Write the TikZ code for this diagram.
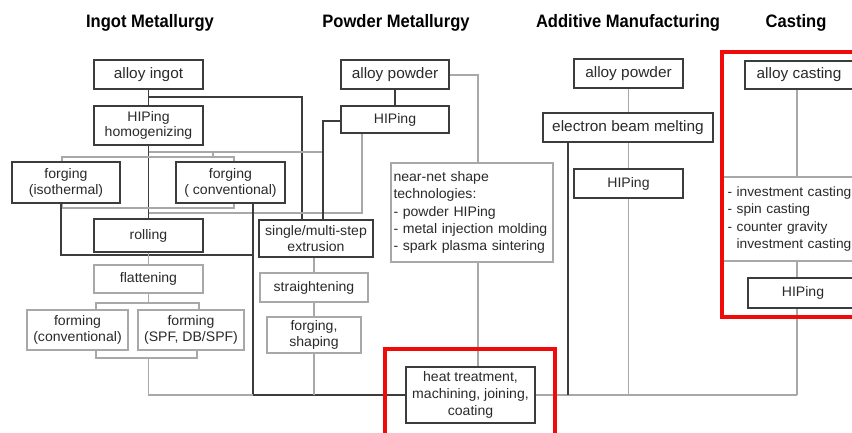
\documentclass[tikz,border=0pt]{standalone}
\usepackage{fontspec}
\setmainfont{Liberation Sans}[FakeStretch=1.02]
\newfontfamily\headfont{Liberation Sans}[FakeStretch=0.92]
\definecolor{dkline}{HTML}{3C3C3C}
\definecolor{ltline}{HTML}{A8A8A8}
\definecolor{txt}{HTML}{2A2A2A}
\definecolor{hired}{HTML}{F00A0A}
\newcommand\bigsize{\fontsize{15.1}{17}\selectfont}
\newcommand\bodysize{\fontsize{13.8}{16}\selectfont\hyphenpenalty=10000\exhyphenpenalty=10000}
\newcommand\listsize{\fontsize{13.5}{17.2}\selectfont\hyphenpenalty=10000\exhyphenpenalty=10000}

\tikzset{
  dk/.style={draw=dkline, line width=1.4pt},
  lt/.style={draw=ltline, line width=1.1pt},
  wh/.style 2 args={minimum width=#1pt, minimum height=#2pt},
  dbox/.style={dk, fill=white, rectangle, inner sep=0pt, align=center, font=\bodysize, text=txt},
  lbox/.style={lt, fill=white, rectangle, inner sep=0pt, align=center, font=\bodysize, text=txt},
  srcbox/.style={dbox, font=\bigsize},
  listbox/.style={lbox, align=left, font=\listsize},
  head/.style={font=\headfont\bfseries\fontsize{18}{20}\selectfont, text=black},
  hilite/.style={draw=hired, line width=4pt},
}

\begin{document}
\begin{tikzpicture}[x=1pt, y=-1pt]
\useasboundingbox (0,0) rectangle (852,432);
\clip (0,0) rectangle (852,432);
\fill[white] (0,0) rectangle (852,432);

% column headings
\node[head] (h1) at (150,23) {Ingot Metallurgy};
\node[head] (h2) at (396,23) {Powder Metallurgy};
\node[head] (h3) at (628,23) {Additive Manufacturing};
\node[head] (h4) at (796,23) {Casting};

% junction points on the trunk lines
\coordinate (j1) at (148.5,97);
\coordinate (j3) at (148.5,152);
\coordinate (j4) at (323,152);
\coordinate (j5) at (148.5,213);
\coordinate (j2) at (253,255);
\coordinate (jF) at (148.5,358);
\coordinate (jG) at (253,395);
\coordinate (t1) at (213,152);
\coordinate (t2) at (213,157);
\coordinate (jE) at (568,395);

% --- connectors (drawn first, boxes sit on top) ---
% ingot metallurgy
\draw[dk] (148.5,74) -- (148.5,252);
\draw[dk] (j1) -| (302,220);
\draw[lt] (j3) -- (j4);
\draw[lt] (t1) -- (t2);
\draw[lt] (62,170) -- (62,157) -| (234,170);
\draw[lt] (62,195) -- (62,208) -| (234,195);
\draw[lt] (362,120) |- (j5);
\draw[dk] (61,195) |- (j2);
\draw[dk] (253,195) |- (406,395);
\draw[lt] (148.5,252) -- (148.5,303);
\draw[lt] (96,318) -- (96,303) -| (199,318);
\draw[lt] (96,345) -- (96,358) -| (197,345);
\draw[lt] (jF) |- (jG);
% powder metallurgy
\draw[dk] (395,74) -- (395,119);
\draw[dk] (395,121) -| (323,220);
\draw[lt] (314,238) -- (314,395);
\draw[lt] (400,75) -| (478,212);
\draw[lt] (478,212) -- (478,395);
% additive manufacturing and casting
\draw[lt] (535,395) -- (797,395);
\draw[lt] (628.5,74) -- (628.5,395);
\draw[dk] (568,127) -- (jE);
\draw[lt] (797,75) -- (797,395);

% --- boxes: ingot metallurgy ---
\node[srcbox, wh={109}{29}] (ingot) at (148.5,74.5) {alloy ingot};
\node[dbox, wh={109}{39}, font=\fontsize{13.8}{14.8}\selectfont] (hiphom) at (148.5,125.5) {HIPing\\homogenizing};
\node[dbox, wh={108}{41}] (forgiso) at (66,182.5) {forging\\(isothermal)};
\node[dbox, wh={109}{41}] (forgconv) at (230.5,182.5) {forging\\( conventional)};
\node[dbox, wh={109}{33}] (rolling) at (148.5,235.5) {rolling};
\node[lbox, wh={109}{28}] (flat) at (148.5,279) {flattening};
\node[lbox, wh={101}{40}] (formconv) at (77.5,330) {forming\\(conventional)};
\node[lbox, wh={106}{40}] (formspf) at (191,330) {forming\\(SPF, DB/SPF)};

% --- boxes: powder metallurgy ---
\node[srcbox, wh={108}{29}] (ppowder) at (395,74.5) {alloy powder};
\node[dbox, wh={108}{27}] (phip) at (395,119.5) {HIPing};
\node[dbox, wh={114}{37}] (extr) at (316,238.5) {single/multi-step\\extrusion};
\node[lbox, wh={108}{29}] (straight) at (314,287.5) {straightening};
\node[lbox, wh={94}{36}] (fshape) at (314,335) {forging,\\shaping};
\node[listbox, wh={162}{99}, text width=157pt, inner xsep=2.5pt, font=\fontsize{13.8}{17.2}\selectfont] (nearnet) at (472,212.5)
  {near-net shape\\technologies:\\- powder HIPing\\- metal injection molding\\- spark plasma sintering};
\node[dbox, wh={129}{56}, font=\fontsize{13.8}{16.7}\selectfont] (heat) at (470.5,395) {heat treatment,\\machining, joining,\\coating};

% --- boxes: additive manufacturing ---
\node[srcbox, wh={109}{29}] (apowder) at (628.5,73.5) {alloy powder};
\node[srcbox, wh={170}{29}] (ebm) at (628,127.5) {electron beam melting};
\node[dbox, wh={109}{29}] (ahip) at (628.5,183.5) {HIPing};

% --- boxes: casting ---
\node[srcbox, wh={108}{28}] (calloy) at (799,75) {alloy casting};
\node[listbox, wh={140}{84}, text width=135pt, inner xsep=4pt, anchor=west] (clist) at (723,219)
  {- investment casting\\- spin casting\\- counter gravity\\\phantom{-\ }investment casting};
\node[dbox, wh={110}{30}] (chip) at (803,293) {HIPing};

% highlight frames
\draw[hilite] (385,349) rectangle (555,445);
\draw[hilite] (722,52) rectangle (870,317);
\end{tikzpicture}
\end{document}
